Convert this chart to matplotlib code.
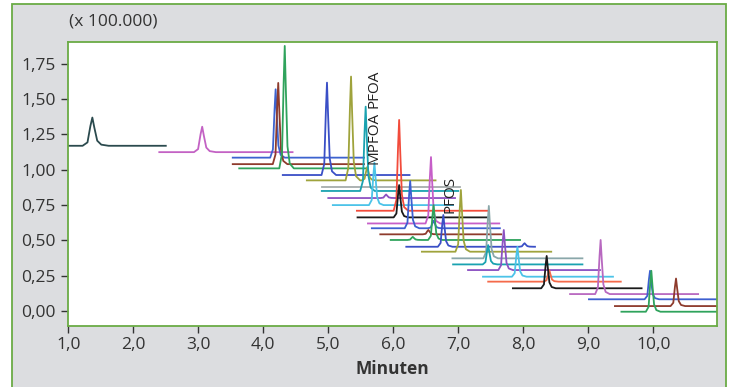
import matplotlib
matplotlib.use("Agg")
import matplotlib.pyplot as plt
from matplotlib.patches import Rectangle

plt.rcParams["font.family"] = ["Open Sans", "DejaVu Sans"]

# ── chromatogram traces (time in min, intensity in x 100.000) ──────────────
t_start = [1.00, 2.40, 3.53, 3.53, 3.63, 4.30, 4.67, 4.90, 4.90, 5.00,
           5.07, 5.44, 5.45, 5.61, 5.67, 5.80, 5.96, 6.20, 6.44, 6.91,
           6.92, 7.15, 7.38, 7.46, 7.84, 8.72, 9.01, 9.41, 9.51]
t_end = [2.50, 4.45, 5.55, 5.55, 5.60, 6.25, 6.65, 7.03, 7.00, 6.95,
         6.92, 7.45, 7.44, 7.63, 7.64, 7.66, 7.95, 8.18, 8.43, 8.91,
         8.91, 9.18, 9.38, 9.50, 9.82, 10.69, 11.0, 11.0, 11.0]
baseline = [1.170, 1.125, 1.086, 1.040, 1.010, 0.963, 0.925, 0.878, 0.850, 0.800,
            0.750, 0.710, 0.663, 0.620, 0.586, 0.543, 0.503, 0.455, 0.420, 0.373,
            0.330, 0.290, 0.243, 0.208, 0.161, 0.120, 0.083, 0.035, -0.005]
peak_t = [[1.37], [3.06], [4.19], [4.23], [4.33], [4.98], [5.35, 5.60], [], [5.575], [5.89],
          [5.71], [6.09], [6.09], [6.58], [6.26, 6.62], [6.54], [6.30, 6.62], [6.77, 8.02], [7.04], [7.47],
          [7.46], [7.70], [7.91], [8.40], [8.36], [9.19], [9.95], [10.35], [9.97]]
peak_top = [[1.37], [1.305], [1.57], [1.615], [1.877], [1.617], [1.66, 1.02], [], [1.447], [0.825],
            [1.05], [1.353], [0.892], [1.09], [0.92, 0.64], [0.574], [0.525, 0.75], [0.68, 0.48], [0.857], [0.744],
            [0.467], [0.574], [0.455], [0.29], [0.39], [0.503], [0.285], [0.23], [0.285]]
peak_w = [2.5, 2.1] + [1.4] * 27
colors = ["#2b4a4e", "#c362c4", "#3d63cf", "#8e3b2c", "#2fa35c", "#3a4fc6", "#9fa33c", "#a6acac", "#19a2b0", "#8c52c2",
          "#4cc3e8", "#f24b3b", "#1a1a1a", "#c65ec8", "#3d5fd0", "#8e3b2c", "#2fa35c", "#3a4fc6", "#9fa33c", "#8aa7aa",
          "#19a2b0", "#8c52c2", "#4cc3e8", "#f46a4a", "#1a1a1a", "#b868c0", "#3d5fd0", "#8e3b2c", "#2fa35c"]

labels = ["PFOA", "MPFOA", "PFOS"]
label_t = [5.70, 5.70, 6.88]
label_y = [1.576, 1.229, 0.822]

x_ticks = [1, 2, 3, 4, 5, 6, 7, 8, 9, 10]
y_ticks = [0.0, 0.25, 0.5, 0.75, 1.0, 1.25, 1.5, 1.75]

# peak shape (style): offsets in min and fraction of peak height
SHAPE_OFF = [-0.06, -0.03, -0.012, 0.0, 0.012, 0.03, 0.055, 0.1]
SHAPE_FRAC = [0.0, 0.12, 0.7, 1.0, 0.65, 0.18, 0.04, 0.0]

GREEN = "#6aab45"
TXT = "#333333"

fig = plt.figure(figsize=(7.3, 3.87), dpi=100)
fig.patches.append(Rectangle((12 / 730, -0.02), 714 / 730, 1.0097, transform=fig.transFigure,
                             facecolor="#dcdde0", edgecolor=GREEN, lw=1.3, zorder=-5))
ax = fig.add_axes([68.3 / 730, 1 - 325.7 / 387, 649 / 730, 284 / 387])
ax.set_facecolor("white")

for i in range(len(t_start)):
    b = baseline[i]
    pts = [(t_start[i], b), (t_end[i], b)]
    for pt, top in zip(peak_t[i], peak_top[i]):
        for off, fr in zip(SHAPE_OFF, SHAPE_FRAC):
            pts.append((pt + off * peak_w[i], b + fr * (top - b)))
    pts = sorted(p for p in pts if t_start[i] <= p[0] <= t_end[i])
    ax.plot([p[0] for p in pts], [p[1] for p in pts], color=colors[i], lw=1.3,
            solid_joinstyle="round", zorder=2)

for s, t, y in zip(labels, label_t, label_y):
    ax.text(t, y, s, rotation=90, ha="center", va="center", fontsize=11, color="#222222", zorder=3)

ax.set_xlim(1.0, 10.985)
ax.set_ylim(-0.104, 1.907)
ax.set_xticks(x_ticks)
ax.set_xticklabels([f"{v:.1f}".replace(".", ",") for v in x_ticks])
ax.set_yticks(y_ticks)
ax.set_yticklabels([f"{v:.2f}".replace(".", ",") for v in y_ticks])
ax.tick_params(axis="both", colors=TXT, labelsize=12.5, length=5, width=1.0)
ax.tick_params(axis="x", pad=3)
ax.tick_params(axis="y", pad=4)
for sp in ax.spines.values():
    sp.set_color(GREEN)
    sp.set_linewidth(1.3)

ax.set_xlabel("Minuten", fontsize=12.5, fontweight="bold", color=TXT, labelpad=5)
fig.text(69 / 730, 1 - 22 / 387, "(x 100.000)", fontsize=12.5, color=TXT, ha="left", va="center")

fig.savefig("out.png", dpi=100, facecolor="white")
